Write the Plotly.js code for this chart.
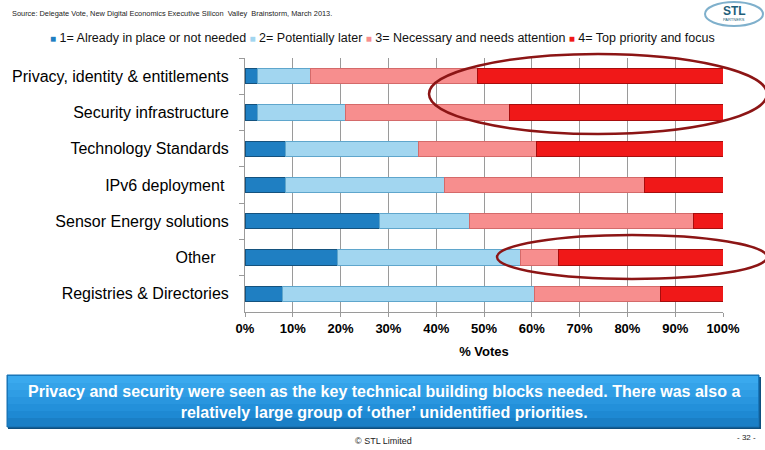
<!DOCTYPE html>
<html><head><meta charset="utf-8">
<script src="https://cdn.plot.ly/plotly-3.0.1.min.js"></script>
<style>html,body{margin:0;padding:0;background:#fff}#chart{width:765px;height:450px}</style>
</head><body><div id="chart"></div>
<script>
var categories = ["Privacy, identity & entitlements","Security infrastructure","Technology Standards","IPv6 deployment\u00a0","Sensor Energy solutions","Other\u00a0\u00a0\u00a0","Registries & Directories"];
var seriesNames = ["1= Already in place or not needed","2= Potentially later","3= Necessary and needs attention","4= Top priority and focus"];
var already   = [2.6, 2.6, 8.4, 8.4, 28.2, 19.3, 7.8];
var later     = [11.0, 18.5, 27.9, 33.3, 18.7, 38.4, 52.7];
var necessary = [35.0, 34.2, 24.7, 41.8, 46.9, 7.8, 26.5];
var top4      = [51.4, 44.7, 39.0, 16.5, 6.2, 34.5, 13.0];
var xTickVals = [0,10,20,30,40,50,60,70,80,90,100];
var xTickText = ["0%","10%","20%","30%","40%","50%","60%","70%","80%","90%","100%"];

var fills = ["#1f7fc2","#a2d6f0","#f78e8e","#f01818"];
var lines = ["#14527e","#5fa6cc","#d46a6a","#a80d0d"];
var vals = [already, later, necessary, top4];
var traces = vals.map(function(v,i){
  return {type:"bar", orientation:"h", name:seriesNames[i], x:v, y:categories,
    marker:{color:fills[i], line:{color:lines[i], width:1}}, hoverinfo:"none", showlegend:false};
});

var legendText = seriesNames.map(function(n,i){
  return "<span style='color:"+fills[i]+";font-size:10px'>\u25A0</span> " + n;
}).join(" ");

var P = function(px){return (px-245)/478;};
var Q = function(py){return (312-py)/254;};

var bannerShapes = [
  {type:"rect", xref:"paper", yref:"paper", x0:P(8), x1:P(761), y0:Q(429), y1:Q(377), fillcolor:"#0f4f7e", line:{width:0}},
  {type:"rect", xref:"paper", yref:"paper", x0:P(7), x1:P(759), y0:Q(427), y1:Q(375), fillcolor:"#1a7fc6", line:{color:"#1670b0", width:1}}
];
var stripCols = ["#3aa9ee","#35a3e9","#2f9de4","#2996df","#2390da","#1e89d3"];
stripCols.forEach(function(c,i){
  bannerShapes.push({type:"rect", xref:"paper", yref:"paper", x0:P(8), x1:P(758), y0:Q(376+(i+1)*7), y1:Q(376+i*7), fillcolor:c, line:{width:0}});
});

var layout = {
  width:765, height:450, barmode:"stack", bargap:0.58,
  margin:{l:245, r:42, t:58, b:138, autoexpand:false},
  paper_bgcolor:"#fff", plot_bgcolor:"#fff",
  font:{family:"Liberation Sans, Arial, sans-serif", color:"#000"},
  showlegend:false,
  xaxis:{range:[0,100], tickvals:xTickVals, ticktext:xTickText, showgrid:true, gridcolor:"#9a9a9a", gridwidth:1,
    showline:true, linecolor:"#9a9a9a", ticks:"outside", ticklen:4, tickcolor:"#9a9a9a", zeroline:false,
    tickfont:{size:13, family:"Liberation Sans, Arial, sans-serif", weight:"bold"},
    title:{text:"% Votes", font:{size:13, weight:"bold"}, standoff:12}, fixedrange:true, automargin:false},
  yaxis:{autorange:"reversed", showline:true, linecolor:"#9a9a9a", ticks:"outside", tickson:"boundaries", ticklen:5, tickcolor:"#9a9a9a",
    showgrid:false, tickfont:{size:16, family:"Liberation Sans, Arial, sans-serif"}, ticklabelstandoff:12, fixedrange:true, automargin:false},
  shapes:[
    {type:"circle", xref:"paper", yref:"paper", x0:P(429), x1:P(767), y0:Q(134), y1:Q(54), line:{color:"#8c1515", width:2.5}, layer:"above"},
    {type:"circle", xref:"paper", yref:"paper", x0:P(497), x1:P(767), y0:Q(279), y1:Q(235), line:{color:"#8c1515", width:2.5}, layer:"above"},
    {type:"circle", xref:"paper", yref:"paper", x0:P(705), x1:P(763), y0:Q(26), y1:Q(2), line:{color:"#7fb0cc", width:2}, fillcolor:"#fff"}
  ].concat(bannerShapes),
  annotations:[
    {xref:"paper", yref:"paper", x:P(10), y:Q(13), xanchor:"left", yanchor:"middle", showarrow:false,
     text:"Source: Delegate Vote, New Digital Economics Executive Silicon  Valley  Brainstorm, March 2013.",
     font:{size:7.4, family:"Liberation Sans, Arial, sans-serif", color:"#222"}},
    {xref:"paper", yref:"paper", x:P(382), y:Q(38), xanchor:"center", yanchor:"middle", showarrow:false,
     text:legendText, font:{size:12.5, family:"Liberation Sans, Arial, sans-serif", color:"#111"}},
    {xref:"paper", yref:"paper", x:P(384), y:Q(402), xanchor:"center", yanchor:"middle", showarrow:false,
     text:"Privacy and security were seen as the key technical building blocks needed. There was also a<br>relatively large group of \u2018other\u2019 unidentified priorities.",
     font:{size:16, family:"Liberation Sans, Arial, sans-serif", color:"#fff", weight:"bold"}},
    {xref:"paper", yref:"paper", x:P(383), y:Q(441), xanchor:"center", yanchor:"middle", showarrow:false,
     text:"\u00a9 STL Limited", font:{size:9, color:"#222"}},
    {xref:"paper", yref:"paper", x:P(746), y:Q(437), xanchor:"center", yanchor:"middle", showarrow:false,
     text:"- 32 -", font:{size:8, color:"#222"}},
    {xref:"paper", yref:"paper", x:P(734), y:Q(11), xanchor:"center", yanchor:"middle", showarrow:false,
     text:"STL", font:{size:12, color:"#1f5f7a", weight:"bold"}},
    {xref:"paper", yref:"paper", x:P(734), y:Q(19.5), xanchor:"center", yanchor:"middle", showarrow:false,
     text:"PARTNERS", font:{size:4, color:"#1f5f7a"}}
  ]
};
Plotly.newPlot("chart", traces, layout, {displayModeBar:false, staticPlot:true});
</script></body></html>
